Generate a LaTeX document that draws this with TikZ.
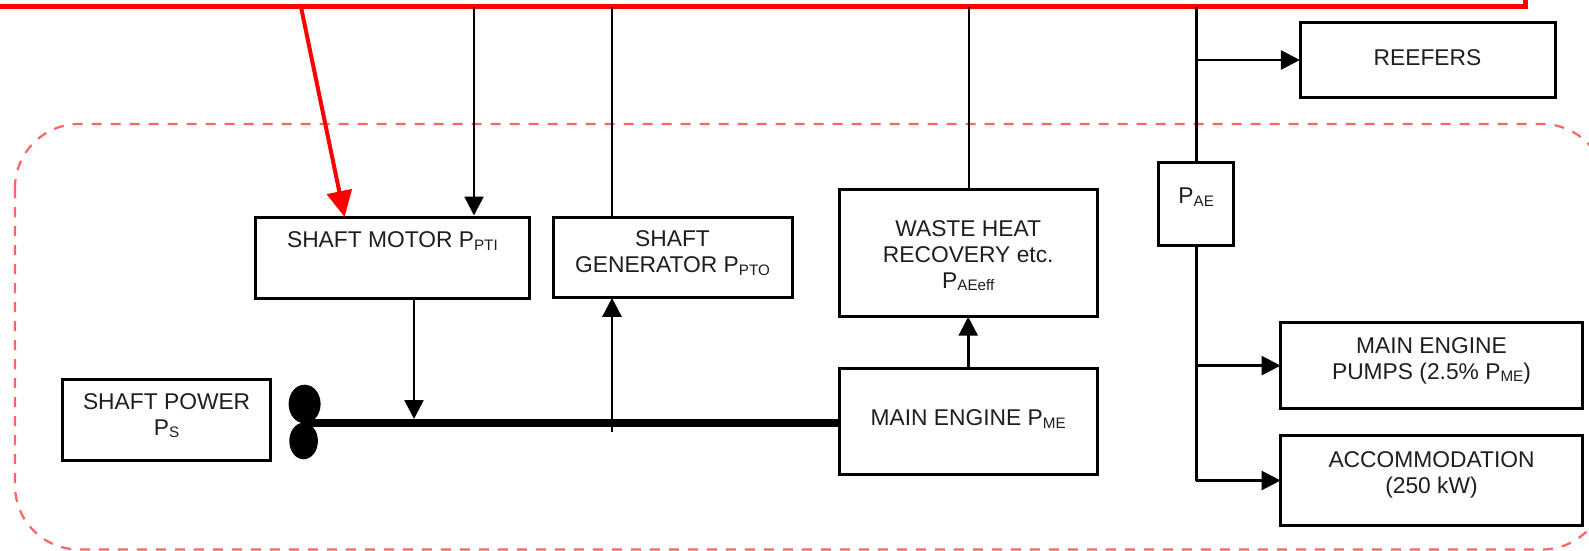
\documentclass[tikz,border=0pt]{standalone}
\usepackage{fontspec}
\setmainfont{Liberation Sans}
\usetikzlibrary{arrows.meta,shapes.geometric}
\definecolor{ink}{HTML}{1E1E1E}
\definecolor{busred}{HTML}{FF0000}
\definecolor{dashred}{HTML}{FF6464}
% #1 = room above the baseline, #2 = room below: moves the text off the box centre
\newcommand{\TT}[3]{\raisebox{0pt}[#1pt][#2pt]{\begin{tabular}[t]{@{}c@{}}#3\end{tabular}}}
\newcommand{\Sb}[1]{\raisebox{-1.25pt}{\fontsize{7.6}{7.6}\selectfont #1}}
\tikzset{
  bx/.style={draw=black,line width=1.5pt,inner sep=0pt,fill=white,text=ink,
    font=\fontsize{11.4}{13}\selectfont},
  conn/.style={draw=black,line width=1.3pt},
  feed/.style={conn,line width=1.6pt},
  arr/.style={conn,-{Triangle[length=9.5pt,width=9.5pt]}},
  flush/.style={shorten >=-0.7pt},
  redarr/.style={draw=busred,line width=2pt,-{Triangle[length=13pt,width=12.5pt]}},
  blade/.style={ellipse,fill=black,draw=none,inner sep=0pt},
  boundary/.style={draw=dashred,line width=1.1pt,dash pattern=on 5pt off 4.5pt,rounded corners=32pt},
}
\begin{document}
\begin{tikzpicture}[x=0.5pt,y=-0.5pt]
\path[use as bounding box,clip] (0,0) rectangle (1589,551);
\fill[white] (0,0) rectangle (1589,551);

\draw[boundary] (15,124) rectangle (1606,549.5);

% boxes
\node[bx,minimum width=104.1pt,minimum height=40.5pt] (power) at (166.6,419.5) {\TT{0}{10.2}{SHAFT POWER\\P\Sb{S}}};
\node[bx,minimum width=136.65pt,minimum height=40.5pt] (motor) at (392.4,257.5) {\TT{0}{9.8}{SHAFT MOTOR P\Sb{PTI}}};
\node[bx,minimum width=119.5pt,minimum height=40.2pt] (gen) at (672.5,257.5) {\TT{0}{10.8}{SHAFT\\GENERATOR P\Sb{PTO}}};
\node[bx,minimum width=129.2pt,minimum height=63.6pt] (waste) at (968.2,253) {\TT{0}{17}{WASTE HEAT\\RECOVERY etc.\\P\Sb{AEeff}}};
\node[bx,minimum width=129.2pt,minimum height=53pt] (main) at (968.2,421) {\TT{4.7}{0}{MAIN ENGINE P\Sb{ME}}};
\node[bx,minimum width=37.5pt,minimum height=41.5pt] (pae) at (1196.2,203.5) {\TT{0}{0}{P\Sb{AE}}};
\node[bx,minimum width=127.5pt,minimum height=37.25pt] (reefers) at (1427.5,60) {\TT{6}{0}{REEFERS}};
\node[bx,minimum width=150.8pt,minimum height=43pt] (pumps) at (1431.5,365.6) {\TT{0}{12.6}{MAIN ENGINE\\PUMPS (2.5\% P\Sb{ME})}};
\node[bx,minimum width=150.8pt,minimum height=44.8pt] (acc) at (1431.5,480.5) {\TT{0}{13.2}{ACCOMMODATION\\(250 kW)}};

% red bus, running out of the top of the picture
\node[draw=busred,line width=2.5pt,inner sep=0pt,minimum width=800pt,minimum height=30pt,anchor=south east] (bus) at (1527.5,9.5) {};

% propeller and shaft
\node[blade,minimum width=16pt,minimum height=19.3pt] (bladeA) at (304.6,404) {};
\node[blade,minimum width=14.3pt,minimum height=18.3pt] (bladeB) at (303.6,441) {};
\coordinate (hub) at (304,423);
\draw[line width=3.9pt] (hub) -- (hub -| main.west);

% named points on the bus and the shaft
\coordinate (redtop) at (301,7);
\coordinate (redtip) at (344.6,217);
\coordinate (tapmotor) at (474,7);
\coordinate (tapgen) at (612,7);
\coordinate (tapwaste) at (969,7);
\coordinate (tappae) at (1196.2,7);
\coordinate (motorout) at (414,298);
\coordinate (shaftin) at (414,419);
\coordinate (shaftout) at (612,431.7);

% connectors
\draw[redarr] (redtop) -- (redtip);
\draw[arr] (tapmotor) -- (tapmotor |- motor.north);
\draw[conn] (tapgen) -- (tapgen |- gen.north);
\draw[conn] (tapwaste) -- (tapwaste |- waste.north);
\draw[feed] (tappae) -- (pae.north);
\draw[arr] (motorout) -- (shaftin);
\draw[arr,flush] (shaftout) -- (shaftout |- gen.south);
\draw[arr,flush] (main.north) -- (waste.south);
\draw[arr,flush] (tappae |- reefers.west) -- (reefers.west);
\draw[conn] (pae.south) -- (pae.south |- acc.west);
\draw[arr,flush] (pae.south |- pumps.west) -- (pumps.west);
\draw[arr,flush] (pae.south |- acc.west) -- (acc.west);
\end{tikzpicture}
\end{document}
